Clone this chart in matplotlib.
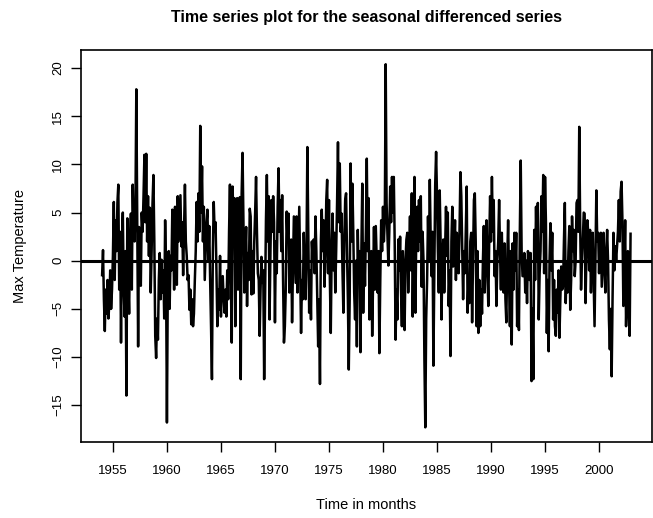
import numpy as np
import matplotlib
matplotlib.use("Agg")
import matplotlib.pyplot as plt

# monthly values of the seasonally differenced max temperature
start_year = 1954
vals_1950s = [
    -1.5, 1.1, -4.0, -7.3, -3.0, -5.5, -2.0, -6.0, -4.5, -1.0, -5.0, -3.0,
    0.5, 6.1, -2.0, 4.2, 1.0, 6.0, 7.9, -3.0, 3.0, -8.5, 2.0, 5.0,
    -3.0, -5.8, 1.0, -14.0, 4.4, -2.0, -5.5, 2.0, 4.9, -3.0, 7.9, 3.0,
    2.0, 5.3, 17.8, 4.0, -8.9, 3.5, 0.0, -2.6, 5.0, 3.0, 6.7, 11.0,
    4.0, 11.1, 2.0, 6.7, 0.5, 5.5, -3.3, 1.0, 6.0, 8.9, 2.0, -7.8,
    -10.1, -6.0, -8.2, -2.0, 0.8, -4.0, 0.1, -3.3, -1.0, -6.0, 4.2, -1.0,
]
vals_1960s = [
    -16.8, -2.0, 1.0, -5.0, 0.5, -1.0, 5.3, 2.0, -3.0, 5.6, 3.0, -2.5,
    6.7, 2.0, 4.5, 6.8, 1.5, 4.0, -1.5, 3.0, 7.9, 2.0, 0.5, -2.0,
    -1.5, -5.1, -3.0, -6.6, -4.0, -6.8, -5.5, -2.0, 1.0, 6.1, 2.0, 7.0,
    3.0, 14.0, 5.0, 9.8, 2.0, 5.6, -2.0, 1.0, 4.0, 5.3, 0.0, 3.6,
    -2.0, -6.8, -12.3, 1.0, 6.1, 3.0, 4.0, -1.0, -6.8, -3.0, -5.1, 0.5,
    -5.8, -2.0, -1.6, -4.0, -5.4, -3.0, -5.8, -1.0, -4.0, 3.0, 7.9, -2.0,
    -8.5, 7.7, 2.0, 6.5, -6.8, 1.0, 6.5, -3.0, 4.0, 6.6, -12.3, 7.0,
    11.2, 4.0, -3.3, 0.5, 3.5, -4.7, 0.8, -2.0, 5.4, 4.6, -3.5, 1.0,
    -3.4, 2.0, 5.0, 8.7, 3.0, -1.3, -2.0, -7.8, -3.0, 0.4, -2.3, -1.0,
    -12.3, -4.0, 4.2, 8.9, 2.0, 6.7, -6.1, 1.0, 6.3, 3.0, 6.7, 4.0,
]
vals_1970s = [
    -6.4, 2.0, -1.3, 5.6, 9.6, 3.0, 6.3, 1.0, 6.8, -2.0, -8.5, -6.8,
    -3.0, 5.1, 2.0, 4.9, -3.3, 0.0, 2.2, -6.4, -1.0, 4.6, 1.0, -2.3,
    4.6, -3.3, 1.0, 5.6, -1.0, -7.5, -2.0, -4.0, 2.9, -1.0, -4.0, 0.5,
    11.8, 3.0, -5.4, -1.0, -6.1, 2.0, 0.0, 2.2, -1.3, 4.6, 1.0, -3.7,
    -8.9, -4.0, -12.8, 2.0, 5.3, 1.0, 4.2, -2.7, 0.5, 6.3, 8.4, -1.3,
    6.3, -2.0, -7.5, 1.0, 4.9, -1.0, 2.9, -3.3, 1.0, 6.0, 12.3, 4.0,
    10.1, 3.0, 4.9, -1.0, -5.4, 2.0, 6.3, 7.0, 1.0, -4.0, -11.3, -4.0,
    10.1, 2.0, 8.0, 3.0, -3.3, -6.1, 0.0, -8.9, 3.2, -2.0, 1.0, -9.5,
    1.0, 8.0, -5.4, 1.8, -2.6, 3.0, 10.6, 1.0, 6.5, -6.1, -2.0, 1.0,
    -7.8, -2.0, 3.5, -3.0, 3.6, 0.0, -3.3, 1.0, -9.6, -2.0, 4.2, 1.0,
]
vals_1980s = [
    5.6, 2.0, 4.2, 20.4, 6.0, 2.5, -0.5, 3.0, 7.7, 4.0, 8.7, 5.0,
    8.7, 2.0, -8.2, -3.0, -6.1, 2.2, -1.0, 2.5, -3.0, -6.8, 1.0, -2.0,
    -7.2, 0.0, 2.2, 2.9, -3.3, 1.0, 4.6, -1.0, 7.0, -5.8, 1.0, 8.7,
    -5.4, 3.0, 5.6, 1.0, 6.3, 2.0, 6.7, -2.7, 3.0, 0.0, -10.2, -17.3,
    -6.0, -2.0, 4.6, 0.0, 8.4, 2.0, -1.6, 3.0, -10.9, -2.0, 7.9, 11.3,
    6.8, 1.0, -3.3, 7.3, 2.0, -6.1, 0.0, 2.2, -3.3, 1.0, 5.6, 0.5,
    5.0, -4.7, -1.0, -9.9, 2.0, 5.6, -0.6, 1.0, 4.2, -2.0, 2.9, 1.0,
    -1.3, 3.0, 9.2, 6.7, 1.0, -4.0, 1.0, -1.3, 3.0, 7.7, -5.4, -2.0,
    -4.4, 2.0, 2.9, -6.4, 0.0, 6.3, 7.0, 2.0, -6.8, 1.0, -7.5, -2.0,
    -6.8, -3.0, -5.5, 0.0, 3.6, -3.3, 1.0, 4.2, -1.0, -4.7, 2.0, 6.7,
]
vals_1990s = [
    2.0, 8.7, 3.0, 6.3, -1.6, 1.0, -4.7, 0.0, 2.0, 6.3, 1.0, -3.0,
    2.9, -1.0, -3.3, 1.8, -4.0, -6.4, 0.0, 4.2, -2.0, -6.8, 1.0, -8.7,
    1.8, -3.0, 2.9, -1.0, 2.9, -6.8, -3.0, -7.2, 3.0, 10.4, 1.0, -1.6,
    -1.6, 0.8, -3.3, 0.0, -4.4, 1.0, 0.4, -2.0, 0.8, -12.5, -5.0, -12.3,
    3.2, -2.0, 5.6, 0.0, 6.0, -6.1, -1.3, 1.0, 6.7, 3.0, 8.9, -1.3,
    8.7, 4.0, -7.5, -2.0, -9.4, 0.0, 3.9, -1.0, 2.9, -6.1, -2.0, -6.8,
    -7.8, -3.0, -5.4, -1.0, -8.0, -4.0, -0.6, -3.0, -2.7, 2.0, 6.0, -4.4,
    -0.2, -3.3, 1.0, 3.6, -5.1, -2.0, 4.6, 1.0, 3.2, -1.6, 0.0, 6.0,
    6.3, 3.0, 13.9, 4.0, -3.0, 0.0, 2.2, 5.0, 4.9, -4.4, 1.0, 4.2,
    2.9, -1.0, 3.2, -3.3, 1.0, 2.9, -2.0, -6.8, 0.0, 7.3, 2.0, 2.9,
]
vals_2000s = [
    -1.3, 2.0, 2.9, -2.7, 0.0, 2.9, -1.0, -3.3, 1.0, 3.2, 0.0, -6.1,
    -9.2, -5.0, -12.0, -4.0, 2.9, -1.0, 1.5, 0.0, 1.5, 3.0, 6.3, 2.0,
    7.2, 8.2, 4.0, -4.7, -1.0, 4.2, -6.8, -2.0, 1.0, -5.4, -7.8, 2.8,
]
xticks = list(range(1955, 2001, 5))
yticks = list(range(-15, 21, 5))

y = np.array(vals_1950s + vals_1960s + vals_1970s + vals_1980s + vals_1990s + vals_2000s)
t = start_year + np.arange(len(y)) / 12.0

plt.rcParams['font.family'] = ['Liberation Sans', 'DejaVu Sans']
fig = plt.figure(figsize=(6.53, 5.18), dpi=100)
ax = fig.add_axes([0.124, 0.147, 0.874, 0.757])

ax.plot(t, y, color='black', lw=1.8)
ax.axhline(0, color='black', lw=2.2)

# R-style 4% padding around the data
pad_x = 0.04 * (t[-1] - t[0])
pad_y = 0.04 * (y.max() - y.min())
ax.set_xlim(t[0] - pad_x, t[-1] + pad_x)
ax.set_ylim(y.min() - pad_y, y.max() + pad_y)

ax.set_xticks(xticks)
ax.set_yticks(yticks)
ax.tick_params(direction='out', length=7, width=1, labelsize=9.5)
ax.tick_params(axis='x', pad=10)
ax.tick_params(axis='y', pad=5)
for lab in ax.get_yticklabels():
    lab.set_rotation(90)
    lab.set_va('center')
for s in ax.spines.values():
    s.set_linewidth(1.2)

ax.set_title('Time series plot for the seasonal differenced series',
             fontsize=11.5, fontweight='bold', pad=20)
ax.set_xlabel('Time in months', fontsize=10.5, labelpad=15)
ax.set_ylabel('Max Temperature', fontsize=10.5, labelpad=18)

fig.savefig('out.png', dpi=100)
